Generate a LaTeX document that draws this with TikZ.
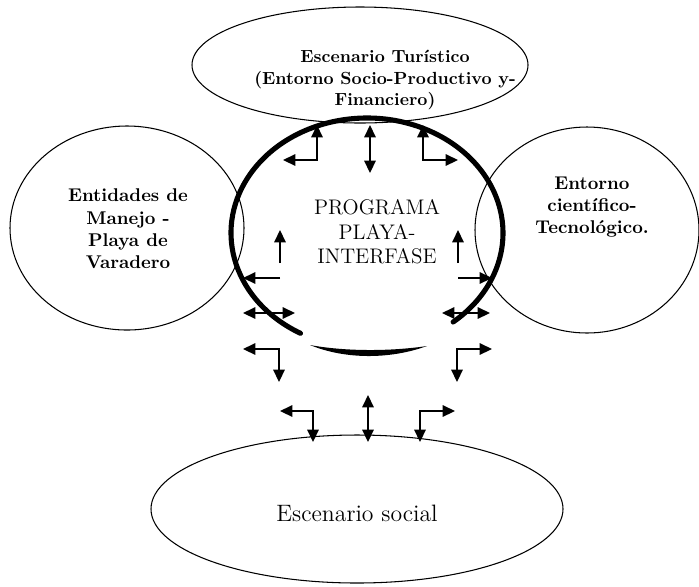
\documentclass[tikz,border=0pt]{standalone}
\usepackage{tikz}
\usetikzlibrary{arrows.meta}

\begin{document}
\begin{tikzpicture}[x=0.02cm,y=-0.02cm,
  thin line/.style={line width=0.6pt},
  ring/.style={line width=2.9pt,line cap=round},
  ar/.style={line width=0.9pt,-{Triangle[length=7pt,width=6.5pt]}},
  ar2/.style={line width=0.9pt,{Triangle[length=7pt,width=6.5pt]}-{Triangle[length=7pt,width=6.5pt]}},
  boldtxt/.style={align=center,font=\bfseries\fontsize{10.5}{12.7}\selectfont},
  bigtxt/.style={align=center,font=\fontsize{12}{14}\selectfont}]
                      \useasboundingbox (0,0) rectangle (699,586);

                      % the four surrounding fields
                      \draw[thin line] (360,65) ellipse [x radius=168, y radius=58];
                      \draw[thin line] (127,228) ellipse [x radius=117, y radius=102];
                      \draw[thin line] (587,230) ellipse [x radius=112, y radius=103];
                      \draw[thin line] (357,509) ellipse [x radius=206, y radius=74];

                      % the programme ring, open at the bottom
                      \coordinate (prog) at (367,233);
                      \draw[ring] ([shift={(119.3:136 and 115)}]prog) arc [start angle=119.3, end angle=410.7, x radius=136, y radius=115];
                      \fill (310,345) .. controls (345,351.5) and (390,351.5) .. (427,346)
                            .. controls (390,359.5) and (345,359.5) .. cycle;

                      \node[boldtxt,font=\bfseries\fontsize{10}{12.5}\selectfont] (turistico) at (385,80) {Escenario Tur\'istico\\(Entorno Socio-Productivo y-\\Financiero)};
                      \node[boldtxt] (manejo) at (128,229) {Entidades de\\Manejo -\\Playa de\\Varadero};
                      \node[boldtxt] (cientifico) at (592,207) {Entorno\\cient\'ifico-\\Tecnol\'ogico.};
                      \node[bigtxt] (programa) at (377,232) {PROGRAMA\\PLAYA-\\INTERFASE};
                      \node[font=\fontsize{13.5}{16}\selectfont] (social) at (357,513) {Escenario social};

                      % arrows at the top
                      \coordinate (t1) at (317,125);
                      \coordinate (t2) at (370,125);
                      \coordinate (t3) at (423,125);
                      \draw[ar2] (t1) |- ++(-34,35);
                      \draw[ar2] (t2) -- ++(0,48);
                      \draw[ar2] (t3) |- ++(35,35);

                      % arrows at the sides
                      \coordinate (s1) at (280,263);
                      \coordinate (s2) at (458,263);
                      \draw[ar] (s1) -- ++(0,-33);
                      \draw[ar] (s2) -- ++(0,-33);
                      \coordinate (s3) at (280,278);
                      \coordinate (s4) at (458,278);
                      \draw[ar] (s3) -- ++(-37,0);
                      \draw[ar] (s4) -- ++(34,0);
                      \coordinate (s5) at (243,313);
                      \coordinate (s6) at (442,313);
                      \draw[ar2] (s5) -- ++(52,0);
                      \draw[ar2] (s6) -- ++(48,0);

                      % arrows below the ring
                      \coordinate (b1) at (243,349);
                      \coordinate (b2) at (492,349);
                      \draw[ar2] (b1) -| ++(36,33);
                      \draw[ar2] (b2) -| ++(-35,33);

                      % arrows on the social field
                      \coordinate (u1) at (280,411);
                      \coordinate (u2) at (368,395);
                      \coordinate (u3) at (455,411);
                      \draw[ar2] (u1) -| ++(33,31);
                      \draw[ar2] (u2) -- ++(0,47);
                      \draw[ar2] (u3) -| ++(-35,31);
                \end{tikzpicture}
\end{document}
